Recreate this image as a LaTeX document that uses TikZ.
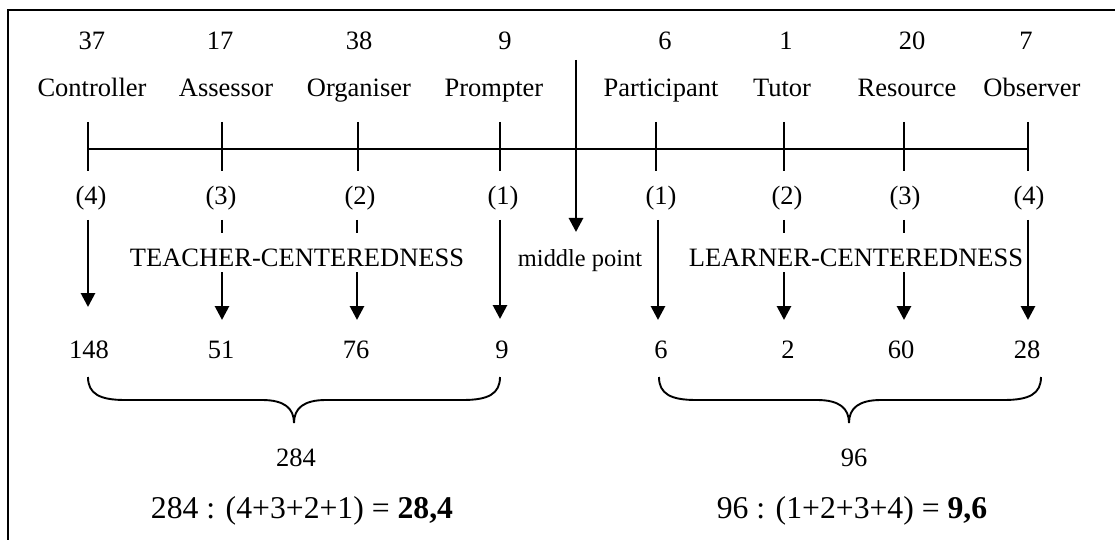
\documentclass[tikz,border=0pt]{standalone}
\usepackage{fontspec}
\setmainfont{Liberation Serif}
\usetikzlibrary{arrows.meta}
\begin{document}
\begin{tikzpicture}[x=0.5pt,y=-0.5pt,
  txt/.style={anchor=base,inner sep=0pt,font=\fontsize{13.25}{15}\selectfont},
  small/.style={anchor=base,inner sep=0pt,font=\fontsize{12.2}{14}\selectfont},
  big/.style={anchor=base,inner sep=0pt,font=\fontsize{15.85}{18}\selectfont},
  cover/.style={txt,fill=white,text height=16.5pt,text depth=3pt},
  axis/.style={line width=0.95pt},
  frame/.style={line width=1.4pt},
  arr/.style={line width=1.4pt,-{Triangle[length=7pt,width=7pt]}},
  bracepath/.style={line width=0.95pt}]
\useasboundingbox (0,0) rectangle (1115,540);
% frame (top and left sides)
\draw[frame] (1115,10) -- (8,10) -- (8,540);
% top numbers
\node[txt] (n1) at (92,50) {37};
\node[txt] (n2) at (220,50) {17};
\node[txt] (n3) at (359,50) {38};
\node[txt] (n4) at (505,50) {9};
\node[txt] (n5) at (665,50) {6};
\node[txt] (n6) at (786,50) {1};
\node[txt] (n7) at (912,50) {20};
\node[txt] (n8) at (1026,50) {7};
% role labels
\node[txt] (l1) at (92,97) {Controller};
\node[txt] (l2) at (226,97) {Assessor};
\node[txt] (l3) at (359,97) {Organiser};
\node[txt] (l4) at (494,97) {Prompter};
\node[txt] (l5) at (661,97) {Participant};
\node[txt] (l6) at (782,97) {Tutor};
\node[txt] (l7) at (907,97) {Resource};
\node[txt] (l8) at (1032,97) {Observer};
% axis with ticks
\coordinate (axL) at (88,149);
\coordinate (axR) at (1028,149);
\draw[axis] (axL) -- (axR);
\foreach \x in {88,222,358,500,656,784,904,1028}
  \draw[axis] (\x,122) -- (\x,171);
% weights
\node[txt] (w1) at (91,205) {(4)};
\node[txt] (w2) at (221,205) {(3)};
\node[txt] (w3) at (360,205) {(2)};
\node[txt] (w4) at (503,205) {(1)};
\node[txt] (w5) at (661,205) {(1)};
\node[txt] (w6) at (787,205) {(2)};
\node[txt] (w7) at (905,205) {(3)};
\node[txt] (w8) at (1029,205) {(4)};
% arrow start / end coordinates
\coordinate (s1) at (88,220);  \coordinate (e1) at (88,307);
\coordinate (s2) at (222,220); \coordinate (e2) at (222,320);
\coordinate (s3) at (357,220); \coordinate (e3) at (357,320);
\coordinate (s4) at (500,220); \coordinate (e4) at (500,319);
\coordinate (s5) at (658,220); \coordinate (e5) at (658,320);
\coordinate (s6) at (784,220); \coordinate (e6) at (784,320);
\coordinate (s7) at (904,220); \coordinate (e7) at (904,320);
\coordinate (s8) at (1028,220); \coordinate (e8) at (1028,320);
\foreach \i in {1,...,8} \draw[arr] (s\i) -- (e\i);
% middle point arrow
\coordinate (ms) at (576,60);
\coordinate (me) at (576,232);
\draw[arr] (ms) -- (me);
% region labels (cover the dashed part of the lines)
\node[cover] (tc) at (297,266) {TEACHER-CENTEREDNESS};
\node[cover] (lc) at (856,266) {LEARNER-CENTEREDNESS};
\node[small] (mp) at (580,266) {middle point};
% bottom numbers
\node[txt] (b1) at (89,358) {148};
\node[txt] (b2) at (221,358) {51};
\node[txt] (b3) at (356,358) {76};
\node[txt] (b4) at (502,358) {9};
\node[txt] (b5) at (661,358) {6};
\node[txt] (b6) at (788,358) {2};
\node[txt] (b7) at (901,358) {60};
\node[txt] (b8) at (1027,358) {28};
% braces
\draw[bracepath] (88,377) .. controls (88,394) and (100,400) .. (125,400) -- (262,400)
  .. controls (284,400) and (294,408) .. (294,423)
  .. controls (294,408) and (304,400) .. (326,400) -- (463,400)
  .. controls (488,400) and (500,394) .. (500,377);
\draw[bracepath] (659,377) .. controls (659,394) and (671,400) .. (696,400) -- (817,400)
  .. controls (839,400) and (849,408) .. (849,423)
  .. controls (849,408) and (859,400) .. (881,400) -- (1004,400)
  .. controls (1029,400) and (1041,394) .. (1041,377);
% sums
\node[txt] (sumL) at (296,466) {284};
\node[txt] (sumR) at (854,466) {96};
% formulas
\node[big] (fL) at (302,518.5) {284 : (4+3+2+1) = \textbf{28,4}};
\node[big] (fR) at (852,518.5) {96 : (1+2+3+4) = \textbf{9,6}};
\end{tikzpicture}
\end{document}
